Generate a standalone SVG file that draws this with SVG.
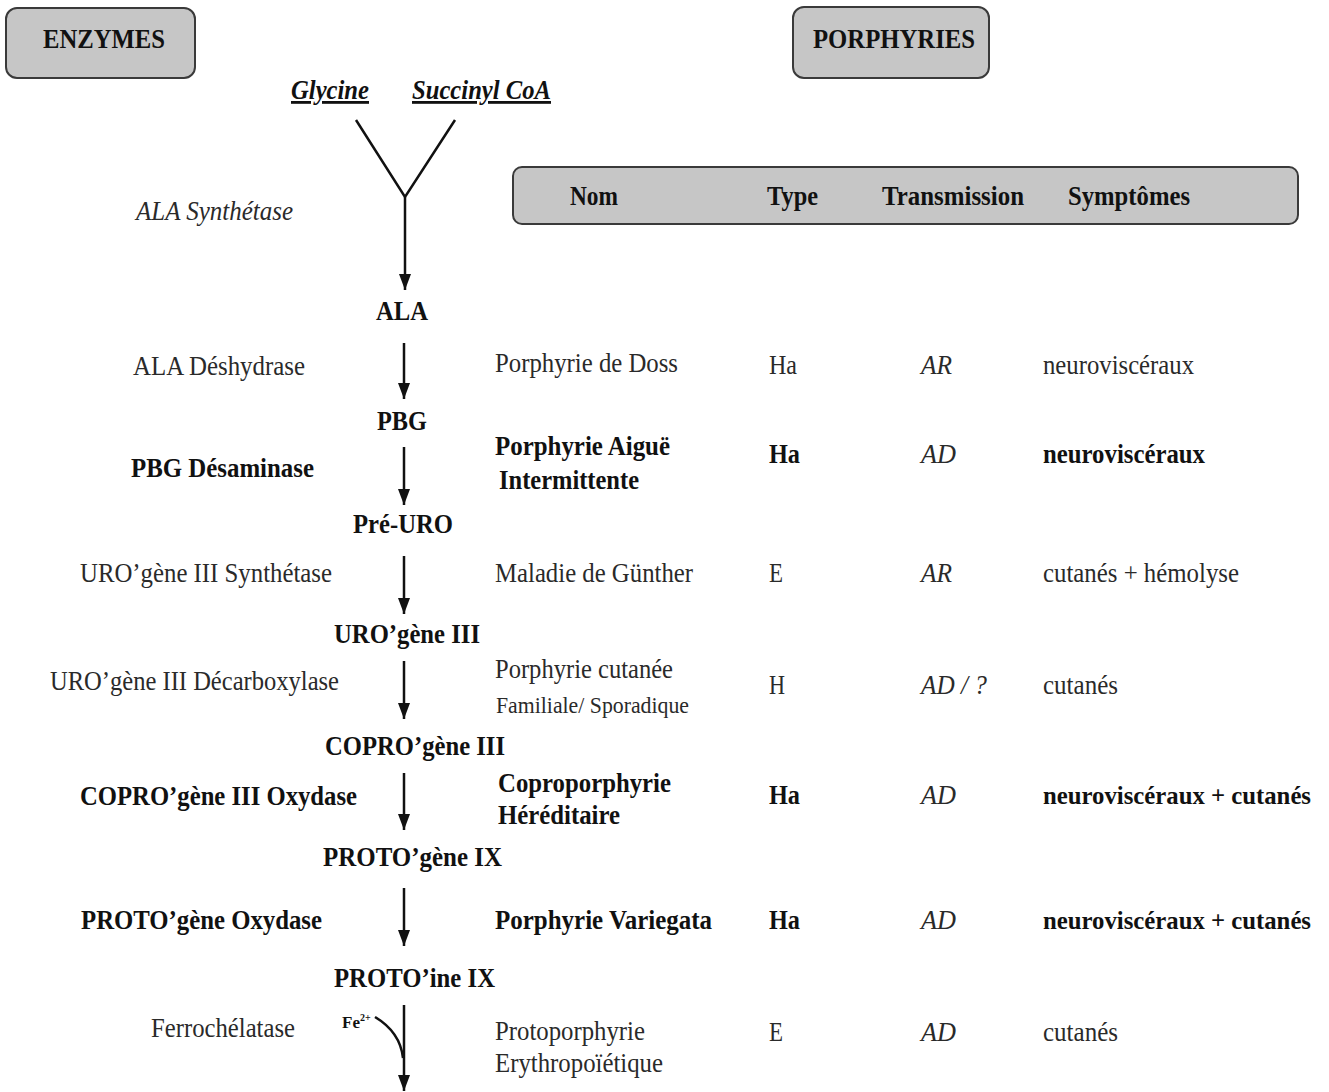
<svg xmlns="http://www.w3.org/2000/svg" width="1329" height="1092" viewBox="0 0 1329 1092">
<defs>
<marker id="ah" viewBox="0 0 16 12" refX="16" refY="6" markerWidth="16" markerHeight="12" markerUnits="userSpaceOnUse" orient="auto">
<path d="M0,0 L16,6 L0,12 Z" fill="#111"/>
</marker>
</defs>
<style>
text{font-family:"Liberation Serif","Times New Roman",serif;fill:#2a2a2a;font-size:28px}
.b{font-weight:bold;fill:#111}
.i{font-style:italic}
.s{font-size:25px}
.box{fill:#c6c6c6;stroke:#3a3a3a;stroke-width:2}
.arr{stroke:#111;stroke-width:2.5;fill:none}
</style>
<rect width="1329" height="1092" fill="#fff"/>

<g id="enzymes-header">
<rect class="box" x="6" y="8" width="189" height="70" rx="11"/>
<text class="b" x="43" y="48" textLength="122" lengthAdjust="spacingAndGlyphs">ENZYMES</text>
</g>
<g id="porphyries-header">
<rect class="box" x="793" y="7" width="196" height="71" rx="11"/>
<text class="b" x="813" y="48" textLength="162" lengthAdjust="spacingAndGlyphs">PORPHYRIES</text>
</g>
<g id="table-header">
<rect class="box" x="513" y="167" width="785" height="57" rx="9"/>
<text class="b" x="570" y="205" textLength="48" lengthAdjust="spacingAndGlyphs">Nom</text>
<text class="b" x="767" y="205" textLength="51" lengthAdjust="spacingAndGlyphs">Type</text>
<text class="b" x="882" y="205" textLength="142" lengthAdjust="spacingAndGlyphs">Transmission</text>
<text class="b" x="1068" y="205" textLength="122" lengthAdjust="spacingAndGlyphs">Symptômes</text>
</g>

<g id="substrates">
<text class="b i" x="291" y="99" textLength="78" lengthAdjust="spacingAndGlyphs" text-decoration="underline">Glycine</text>
<text class="b i" x="412" y="99" textLength="139" lengthAdjust="spacingAndGlyphs" text-decoration="underline">Succinyl CoA</text>
</g>

<g id="connectors">
<path class="arr" stroke-width="3" d="M356,120 L405,197 L455,120"/>
<line class="arr" x1="405" y1="197" x2="405" y2="290" marker-end="url(#ah)"/>
<line class="arr" x1="404" y1="343" x2="404" y2="399" marker-end="url(#ah)"/>
<line class="arr" x1="404" y1="447" x2="404" y2="505" marker-end="url(#ah)"/>
<line class="arr" x1="404" y1="556" x2="404" y2="614" marker-end="url(#ah)"/>
<line class="arr" x1="404" y1="661" x2="404" y2="719" marker-end="url(#ah)"/>
<line class="arr" x1="404" y1="773" x2="404" y2="830" marker-end="url(#ah)"/>
<line class="arr" x1="404" y1="888" x2="404" y2="946" marker-end="url(#ah)"/>
<line class="arr" x1="404" y1="1005" x2="404" y2="1091" marker-end="url(#ah)"/>
<path class="arr" stroke-width="2" d="M375,1017 C390,1026 401,1040 403,1058"/>
</g>

<g id="metabolites">
<text class="b" x="376" y="320" textLength="52" lengthAdjust="spacingAndGlyphs">ALA</text>
<text class="b" x="377" y="430" textLength="50" lengthAdjust="spacingAndGlyphs">PBG</text>
<text class="b" x="353" y="533" textLength="100" lengthAdjust="spacingAndGlyphs">Pré-URO</text>
<text class="b" x="334" y="643" textLength="146" lengthAdjust="spacingAndGlyphs">URO’gène III</text>
<text class="b" x="325" y="755" textLength="180" lengthAdjust="spacingAndGlyphs">COPRO’gène III</text>
<text class="b" x="323" y="866" textLength="179" lengthAdjust="spacingAndGlyphs">PROTO’gène IX</text>
<text class="b" x="334" y="987" textLength="161" lengthAdjust="spacingAndGlyphs">PROTO’ine IX</text>
<text class="b" x="342" y="1028" style="font-size:17px">Fe<tspan dy="-7" style="font-size:10px">2+</tspan></text>
</g>

<g id="enzyme-labels">
<text class="i" x="136" y="220" textLength="157" lengthAdjust="spacingAndGlyphs">ALA Synthétase</text>
<text x="133" y="375" textLength="172" lengthAdjust="spacingAndGlyphs">ALA Déshydrase</text>
<text class="b" x="131" y="477" textLength="183" lengthAdjust="spacingAndGlyphs">PBG Désaminase</text>
<text x="80" y="582" textLength="252" lengthAdjust="spacingAndGlyphs">URO’gène III Synthétase</text>
<text x="50" y="690" textLength="289" lengthAdjust="spacingAndGlyphs">URO’gène III Décarboxylase</text>
<text class="b" x="80" y="805" textLength="277" lengthAdjust="spacingAndGlyphs">COPRO’gène III Oxydase</text>
<text class="b" x="81" y="929" textLength="241" lengthAdjust="spacingAndGlyphs">PROTO’gène Oxydase</text>
<text x="151" y="1037" textLength="144" lengthAdjust="spacingAndGlyphs">Ferrochélatase</text>
</g>

<g id="row-doss">
<text x="495" y="372" textLength="183" lengthAdjust="spacingAndGlyphs">Porphyrie de Doss</text>
<text x="769" y="374" textLength="28" lengthAdjust="spacingAndGlyphs">Ha</text>
<text class="i" x="921" y="374" textLength="31" lengthAdjust="spacingAndGlyphs">AR</text>
<text x="1043" y="374" textLength="151" lengthAdjust="spacingAndGlyphs">neuroviscéraux</text>
</g>
<g id="row-pai">
<text class="b" x="495" y="455" textLength="175" lengthAdjust="spacingAndGlyphs">Porphyrie Aiguë</text>
<text class="b" x="499" y="489" textLength="140" lengthAdjust="spacingAndGlyphs">Intermittente</text>
<text class="b" x="769" y="463" textLength="31" lengthAdjust="spacingAndGlyphs">Ha</text>
<text class="i" x="921" y="463" textLength="35" lengthAdjust="spacingAndGlyphs">AD</text>
<text class="b" x="1043" y="463" textLength="162" lengthAdjust="spacingAndGlyphs">neuroviscéraux</text>
</g>
<g id="row-gunther">
<text x="495" y="582" textLength="198" lengthAdjust="spacingAndGlyphs">Maladie de Günther</text>
<text x="769" y="582" textLength="14" lengthAdjust="spacingAndGlyphs">E</text>
<text class="i" x="921" y="582" textLength="31" lengthAdjust="spacingAndGlyphs">AR</text>
<text x="1043" y="582" textLength="196" lengthAdjust="spacingAndGlyphs">cutanés + hémolyse</text>
</g>
<g id="row-pct">
<text x="495" y="678" textLength="178" lengthAdjust="spacingAndGlyphs">Porphyrie cutanée</text>
<text x="496" y="713" style="font-size:23px" textLength="193" lengthAdjust="spacingAndGlyphs">Familiale/ Sporadique</text>
<text x="769" y="694" textLength="16" lengthAdjust="spacingAndGlyphs">H</text>
<text class="i" x="921" y="694" textLength="66" lengthAdjust="spacingAndGlyphs">AD / ?</text>
<text x="1043" y="694" textLength="75" lengthAdjust="spacingAndGlyphs">cutanés</text>
</g>
<g id="row-copro">
<text class="b" x="498" y="792" textLength="173" lengthAdjust="spacingAndGlyphs">Coproporphyrie</text>
<text class="b" x="498" y="824" textLength="122" lengthAdjust="spacingAndGlyphs">Héréditaire</text>
<text class="b" x="769" y="804" textLength="31" lengthAdjust="spacingAndGlyphs">Ha</text>
<text class="i" x="921" y="804" textLength="35" lengthAdjust="spacingAndGlyphs">AD</text>
<text class="b s" x="1043" y="804" textLength="268" lengthAdjust="spacingAndGlyphs">neuroviscéraux + cutanés</text>
</g>
<g id="row-variegata">
<text class="b" x="495" y="929" textLength="217" lengthAdjust="spacingAndGlyphs">Porphyrie Variegata</text>
<text class="b" x="769" y="929" textLength="31" lengthAdjust="spacingAndGlyphs">Ha</text>
<text class="i" x="921" y="929" textLength="35" lengthAdjust="spacingAndGlyphs">AD</text>
<text class="b s" x="1043" y="929" textLength="268" lengthAdjust="spacingAndGlyphs">neuroviscéraux + cutanés</text>
</g>
<g id="row-ppe">
<text x="495" y="1040" textLength="150" lengthAdjust="spacingAndGlyphs">Protoporphyrie</text>
<text x="495" y="1072" textLength="168" lengthAdjust="spacingAndGlyphs">Erythropoïétique</text>
<text x="769" y="1041" textLength="14" lengthAdjust="spacingAndGlyphs">E</text>
<text class="i" x="921" y="1041" textLength="35" lengthAdjust="spacingAndGlyphs">AD</text>
<text x="1043" y="1041" textLength="75" lengthAdjust="spacingAndGlyphs">cutanés</text>
</g>
</svg>
